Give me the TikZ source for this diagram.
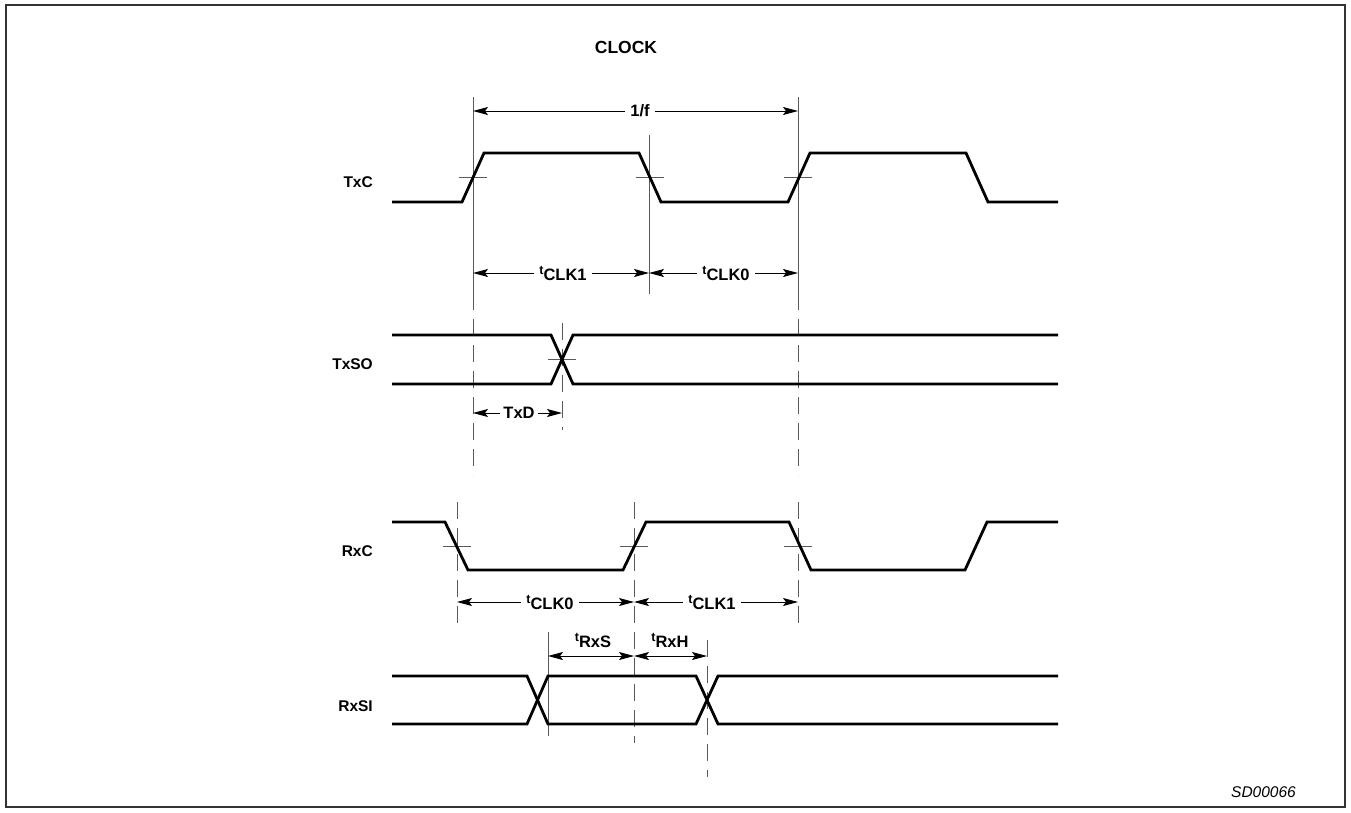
\documentclass[tikz,border=0pt]{standalone}
\usepackage{fontspec}
\setmainfont{Liberation Sans}
\usetikzlibrary{arrows.meta,positioning}

\newcommand\tlab[1]{\raisebox{6pt}{\fontsize{12.5}{14}\selectfont t}#1}

\begin{document}
\begin{tikzpicture}[x=1pt,y=-1pt,
    >={Stealth[length=15pt,width=8pt,inset=3pt]},
    wave/.style={line width=2.8pt,line join=miter},
    guide/.style={line width=0.9pt,black!65},
    guidedash/.style={guide,dash pattern=on 17pt off 9pt},
    hair/.style={line width=0.9pt,black!65},
    dim/.style={line width=0.9pt},
    sig/.style={font=\fontsize{15.5}{18}\selectfont\bfseries,anchor=east,inner sep=0pt},
    lbl/.style={font=\fontsize{16.5}{19}\selectfont\bfseries,inner sep=5pt}]

  \useasboundingbox (0,0) rectangle (1351,812);
  \draw[line width=1.6pt,black!80] (6,5) rectangle (1345,807);

  % ---------- titles ----------
  \node[font=\fontsize{17.5}{20}\selectfont\bfseries] (title) at (626,47) {CLOCK};
  \node[font=\fontsize{15.5}{18}\selectfont\itshape,anchor=east,inner sep=0pt]
    (fig) at (1296,792) {SD00066};

  % ---------- signal names ----------
  \node[sig] (txc)  at (373,182) {TxC};
  \node[sig] (txso) at (373,364) {TxSO};
  \node[sig] (rxc)  at (373,551) {RxC};
  \node[sig] (rxsi) at (373,706) {RxSI};

  % ---------- guide lines ----------
  \draw[guide]     (473,97)  -- (473,293);
  \draw[guidedash] (473,293) -- (473,475);
  \draw[guide]     (649,135) -- (649,294);
  \draw[guide]     (798,97)  -- (798,293);
  \draw[guidedash] (798,293) -- (798,475);
  \draw[guidedash] (798,502) -- (798,630);
  \draw[guidedash] (562,323) -- (562,430);
  \draw[guidedash] (457,502) -- (457,628);
  \draw[guidedash] (634,502) -- (634,743);
  \draw[guide]     (548,632) -- (548,736);
  \draw[guidedash] (707,640) -- (707,777);

  % threshold marks
  \foreach \x/\y in {473/177.5,650/177.5,798/177.5,562/359.5,457/546,634/546,798/546}
    \draw[hair] (\x-14,\y) -- (\x+14,\y);

  % ---------- waveforms ----------
  % TxC
  \draw[wave] (392,202) -- (462,202) -- (484,153) -- (639,153) -- (661,202)
    -- (788,202) -- (810,153) -- (966,153) -- (988,202) -- (1058,202);
  % TxSO
  \draw[wave] (392,335) -- (551,335) -- (573,384) -- (1058,384);
  \draw[wave] (392,384) -- (551,384) -- (573,335) -- (1058,335);
  % RxC
  \draw[wave] (392,522) -- (445,522) -- (468,570) -- (623,570) -- (646,522)
    -- (789,522) -- (811,570) -- (965,570) -- (987,522) -- (1058,522);
  % RxSI
  \draw[wave] (392,676) -- (527,676) -- (548,724) -- (696,724) -- (718,676) -- (1058,676);
  \draw[wave] (392,724) -- (527,724) -- (548,676) -- (696,676) -- (718,724) -- (1058,724);

  % ---------- timing dimensions ----------
  \coordinate (p0) at (473,111);
  \coordinate (p1) at (798,111);
  \node[lbl] (per) at (640,111) {1/f};
  \draw[dim,->] (per.west) -- (p0);
  \draw[dim,->] (per.east) -- (p1);

  \coordinate (c0) at (473,273);
  \coordinate (c1) at (649,273);
  \coordinate (c2) at (798,273);
  \node[lbl] (thi) at (563,273) {\tlab{CLK1}};
  \node[lbl] (tlo) at (726,273) {\tlab{CLK0}};
  \draw[dim,->] (thi.west) -- (c0);
  \draw[dim,->] (thi.east) -- (c1);
  \draw[dim,->] (tlo.west) -- (c1);
  \draw[dim,->] (tlo.east) -- (c2);

  \coordinate (d0) at (473,413);
  \coordinate (d1) at (562,413);
  \node[lbl,inner sep=3pt] (txd) at (519,413) {TxD};
  \draw[dim,->] (txd.west) -- (d0);
  \draw[dim,->] (txd.east) -- (d1);

  \coordinate (r0) at (457,602);
  \coordinate (r1) at (634,602);
  \coordinate (r2) at (798,602);
  \node[lbl] (rlo) at (550,602) {\tlab{CLK0}};
  \node[lbl] (rhi) at (712,602) {\tlab{CLK1}};
  \draw[dim,->] (rlo.west) -- (r0);
  \draw[dim,->] (rlo.east) -- (r1);
  \draw[dim,->] (rhi.west) -- (r1);
  \draw[dim,->] (rhi.east) -- (r2);

  \coordinate (s0) at (548,656);
  \coordinate (s1) at (634,656);
  \coordinate (s2) at (707,656);
  \draw[dim,<->] (s0) -- (s1);
  \draw[dim,<->] (s1) -- (s2);
  \node[lbl,inner sep=0pt] (tsu) at (593,640) {\tlab{RxS}};
  \node[lbl,inner sep=0pt] (tho) at (670,640) {\tlab{RxH}};

\end{tikzpicture}
\end{document}
